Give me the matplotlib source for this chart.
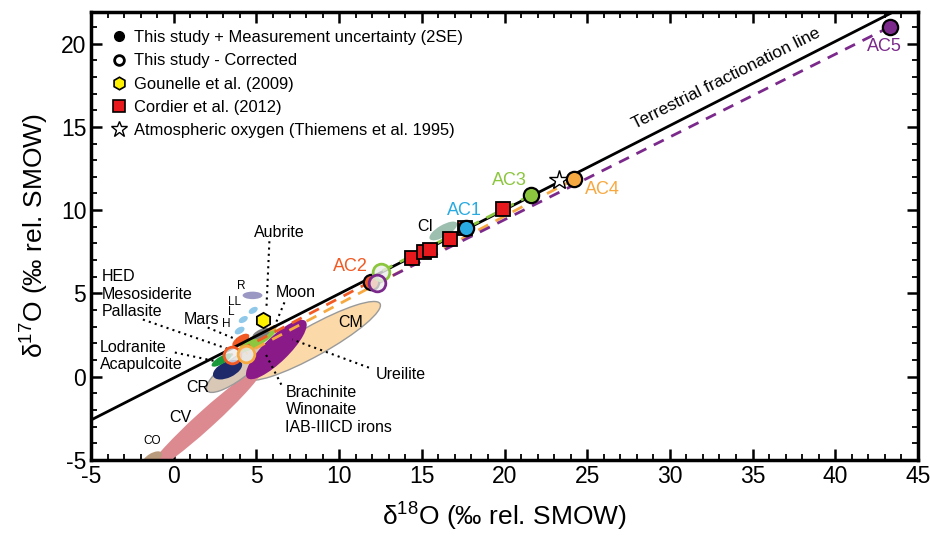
import numpy as np
import matplotlib
matplotlib.use("Agg")
import matplotlib.pyplot as plt
from matplotlib.patches import Ellipse
from matplotlib.lines import Line2D
from matplotlib.ticker import MultipleLocator

plt.rcParams['font.family'] = ['Liberation Sans', 'DejaVu Sans']
plt.rcParams['mathtext.fontset'] = 'custom'
plt.rcParams['mathtext.rm'] = 'Liberation Sans'
plt.rcParams['axes.unicode_minus'] = False

# this study, measured (filled) and corrected (open)
ac_names = ['AC1', 'AC2', 'AC3', 'AC4', 'AC5']
ac_colors = ['#29aae1', '#f15a24', '#8cc63f', '#f7a941', '#7b2a8c']
ac_d18 = [17.7, 11.9, 21.6, 24.2, 43.3]
ac_d17 = [8.9, 5.7, 10.9, 11.85, 21.0]
corr_d18 = [np.nan, 3.5, 12.5, 4.35, 12.3]
corr_d17 = [np.nan, 1.33, 6.3, 1.39, 5.6]

# Cordier et al. (2012)
cordier_d18 = [14.4, 15.1, 15.5, 16.7, 17.6, 19.9]
cordier_d17 = [7.1, 7.5, 7.6, 8.25, 8.9, 10.06]

# Gounelle et al. (2009)
gounelle_d18 = [5.42]
gounelle_d17 = [3.43]

# atmospheric oxygen
atm_d18 = [23.3]
atm_d17 = [11.8]

# terrestrial fractionation line end points
tfl_d18 = [-5, 44.5]
tfl_d17 = [-2.6, 22.4]

# meteorite group fields: centre x, centre y, length, width, angle, face colour
groups = ['CM', 'CV', 'CO', 'CR', 'CR2', 'Ureilite', 'HED', 'Lodranite', 'Mars', 'Aubrite',
          'Moon', 'H', 'L', 'LL', 'R', 'CI']
grp_x = [8.45, 1.9, -1.3, 3.75, 3.25, 6.2, 5.05, 2.9, 4.05, 5.3, 5.95, 3.98, 4.2, 4.8, 4.76, 16.3]
grp_y = [2.15, -2.6, -4.9, 0.42, 0.42, 1.63, 2.2, 1.0, 2.17, 2.6, 2.9, 2.77, 3.43, 3.98, 4.88, 8.75]
grp_len = [9.2, 9.4, 1.3, 4.3, 1.9, 4.9, 2.6, 1.4, 1.2, 1.2, 0.7, 0.65, 0.6, 0.6, 1.2, 1.9]
grp_wid = [1.8, 1.1, 0.6, 1.3, 0.95, 1.5, 0.7, 0.45, 0.55, 0.5, 0.28, 0.38, 0.35, 0.35, 0.45, 0.7]
grp_ang = [29, 42, 30, 36, 25, 44, 30, 30, 35, 25, 25, 30, 30, 30, 0, 30]
grp_col = ['#fbd9a8', '#dc8a90', '#b89a7c', '#d9c8b6', '#1f2a6b', '#8b1a89', '#8dc63f', '#1a9a3a',
           '#f15a24', '#7f7f7f', '#f7a941', '#8fc8e8', '#8fc8e8', '#8fc8e8', '#9b98c4', '#9cbfb0']
grp_edge = ['#9a9a9a', 'none', 'none', '#9a9a9a', 'none', 'none', 'none', 'none',
            'none', 'none', 'none', 'none', 'none', 'none', 'none', 'none']

fig = plt.figure(figsize=(9.3, 5.43), dpi=100)
ax = fig.add_axes([0.098, 0.153, 0.889, 0.825])
ax.set_xlim(-5, 45)
ax.set_ylim(-5, 21.9)

for i in range(len(groups)):
    e = Ellipse((grp_x[i], grp_y[i]), grp_len[i], grp_wid[i], angle=grp_ang[i],
                facecolor=grp_col[i], edgecolor=grp_edge[i], lw=1.0, zorder=2)
    ax.add_patch(e)

# terrestrial fractionation line
ax.plot(tfl_d18, tfl_d17, color='black', lw=2, zorder=3)

# dashed correction lines
for i in range(len(ac_names)):
    if not np.isnan(corr_d18[i]):
        ax.plot([ac_d18[i], corr_d18[i]], [ac_d17[i], corr_d17[i]], ls=(0, (4, 3)),
                color=ac_colors[i], lw=2, zorder=4)

ax.plot(cordier_d18, cordier_d17, 's', ms=10.5, mfc='#e8191c', mec='black', mew=1.3, zorder=5)
ax.plot(gounelle_d18, gounelle_d17, 'h', ms=11, mfc='#fff200', mec='black', mew=1.3, zorder=5)
ax.plot(atm_d18, atm_d17, '*', ms=15, mfc='white', mec='black', mew=1.0, zorder=5)

for i in range(len(ac_names)):
    ax.plot(ac_d18[i], ac_d17[i], 'o', ms=11, mfc=ac_colors[i], mec='black', mew=1.6, zorder=6)
    if not np.isnan(corr_d18[i]):
        ax.plot(corr_d18[i], corr_d17[i], 'o', ms=12, mfc=(0.93, 0.93, 0.93, 0.8),
                mec=ac_colors[i], mew=2, zorder=6)

# AC labels
lab_x = [17.6, 10.7, 20.3, 25.9, 43.0]
lab_y = [10.0, 6.6, 11.75, 11.25, 19.8]
for i in range(len(ac_names)):
    ax.text(lab_x[i], lab_y[i], ac_names[i], color=ac_colors[i], fontsize=13,
            ha='center', va='center', zorder=7)

ax.text(33.4, 17.9, 'Terrestrial fractionation line', fontsize=12.5, rotation=26.5,
        ha='center', va='center', rotation_mode='anchor')

# group labels
small = dict(fontsize=8.5, ha='center', va='center')
ax.text(4.05, 5.45, 'R', **small)
ax.text(3.67, 4.5, 'LL', **small)
ax.text(3.45, 3.86, 'L', **small)
ax.text(3.2, 3.17, 'H', **small)
ax.text(-1.3, -3.86, 'CO', **small)
mid = dict(fontsize=11.5, ha='center', va='center')
ax.text(1.65, 3.43, 'Mars', **mid)
ax.text(7.4, 5.06, 'Moon', **mid)
ax.text(6.4, 8.67, 'Aubrite', **mid)
ax.text(1.45, -0.66, 'CR', **mid)
ax.text(0.4, -2.47, 'CV', **mid)
ax.text(10.7, 3.25, 'CM', **mid)
ax.text(15.2, 9.0, 'CI', **mid)
ax.text(12.2, 0.12, 'Ureilite', fontsize=11.5, ha='left', va='center')
ax.text(-4.35, 4.95, 'HED\nMesosiderite\nPallasite', fontsize=11.5, ha='left', va='center',
        linespacing=1.2)
ax.text(-4.45, 1.25, 'Lodranite\nAcapulcoite', fontsize=11.5, ha='left', va='center',
        linespacing=1.2)
ax.text(6.75, -1.99, 'Brachinite\nWinonaite\nIAB-IIICD irons', fontsize=11.5, ha='left',
        va='center', linespacing=1.2)

# dotted pointers
ptr_from = [(5.78, 8.13), (6.69, 4.46), (-1.87, 3.43), (2.05, 2.95), (0.06, 1.45),
            (11.8, 0.54), (6.5, -0.48)]
ptr_to = [(5.6, 4.1), (6.08, 3.0), (3.37, 1.63), (3.8, 2.23), (2.65, 0.9),
          (7.17, 2.23), (5.48, 1.5)]
for a, b in zip(ptr_from, ptr_to):
    ax.plot([a[0], b[0]], [a[1], b[1]], ls=(0, (1, 2)), color='black', lw=1.5, zorder=3)

# axes styling
for s in ax.spines.values():
    s.set_linewidth(2.5)
ax.xaxis.set_major_locator(MultipleLocator(5))
ax.xaxis.set_minor_locator(MultipleLocator(1))
ax.yaxis.set_major_locator(MultipleLocator(5))
ax.yaxis.set_minor_locator(MultipleLocator(1))
ax.tick_params(which='both', direction='in', top=True, right=True, labelsize=16.5)
ax.tick_params(which='major', length=8, width=1.8)
ax.tick_params(which='minor', length=4.5, width=1.3)
ax.set_xlabel('δ$^{18}$O (‰ rel. SMOW)', fontsize=19, labelpad=8)
ax.set_ylabel('δ$^{17}$O (‰ rel. SMOW)', fontsize=19, labelpad=8)

handles = [
    Line2D([], [], ls='none', marker='o', ms=7, mfc='black', mec='black'),
    Line2D([], [], ls='none', marker='o', ms=7, mfc='white', mec='black', mew=2),
    Line2D([], [], ls='none', marker='h', ms=9, mfc='#fff200', mec='black', mew=1.2),
    Line2D([], [], ls='none', marker='s', ms=8, mfc='#e8191c', mec='black', mew=1.2),
    Line2D([], [], ls='none', marker='*', ms=12, mfc='white', mec='black', mew=1.0),
]
labels = ['This study + Measurement uncertainty (2SE)', 'This study - Corrected',
          'Gounelle et al. (2009)', 'Cordier et al. (2012)',
          'Atmospheric oxygen (Thiemens et al. 1995)']
ax.legend(handles, labels, loc='upper left', frameon=False, fontsize=11.9,
          handletextpad=0.3, labelspacing=0.5, borderaxespad=0.7, handlelength=1.2)

fig.savefig('out.png', dpi=100)
